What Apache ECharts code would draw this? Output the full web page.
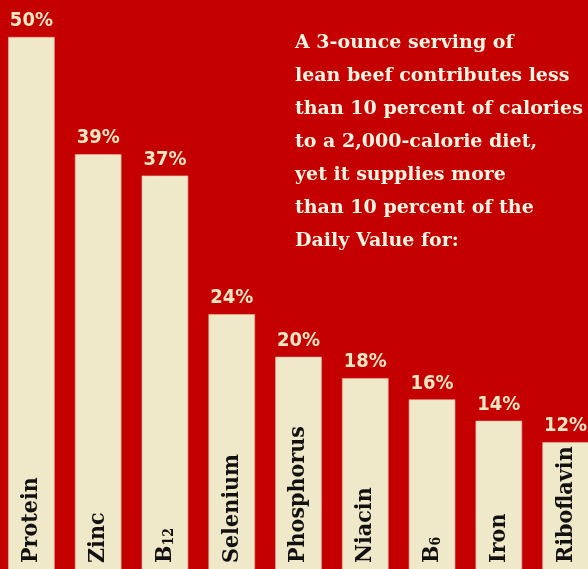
<!DOCTYPE html>
<html>
<head>
<meta charset="utf-8">
<style>
html,body{margin:0;padding:0;background:#c50000;}
#chart{width:588px;height:569px;}
</style>
<script src="https://cdn.jsdelivr.net/npm/echarts@6/dist/echarts.min.js"></script>
</head>
<body>
<div id="chart"></div>
<script>
var categories = ['Protein', 'Zinc', 'B12', 'Selenium', 'Phosphorus', 'Niacin', 'B6', 'Iron', 'Riboflavin'];
var values = [50, 39, 37, 24, 20, 18, 16, 14, 12];
var noteLines = [
  'A 3-ounce serving of',
  'lean beef contributes less',
  'than 10 percent of calories',
  'to a 2,000-calorie diet,',
  'yet it supplies more',
  'than 10 percent of the',
  'Daily Value for:'
];

var chart = echarts.init(document.getElementById('chart'));
var catFont = '"DejaVu Serif Condensed", "DejaVu Sans Condensed", serif';
var numFont = '"DejaVu Sans Condensed", sans-serif';

chart.setOption({
  backgroundColor: '#c50000',
  animation: false,
  grid: { left: -2, width: 601, top: 37, height: 533, containLabel: false, outerBoundsMode: 'none' },
  xAxis: {
    type: 'category',
    data: categories,
    axisLine: { show: false },
    axisTick: { show: false },
    splitLine: { show: false },
    axisLabel: {
      inside: true,
      rotate: 90,
      margin: 7,
      interval: 0,
      color: '#111',
      fontFamily: catFont,
      fontWeight: 'bold',
      fontSize: 23,
      formatter: function (v) {
        if (v === 'B12') return '{b|B}{s|12}';
        if (v === 'B6') return '{b|B}{s|6}';
        return v;
      },
      rich: {
        b: { fontFamily: catFont, fontWeight: 'bold', fontSize: 23, color: '#111' },
        s: { fontFamily: catFont, fontWeight: 'bold', fontSize: 14, color: '#111', verticalAlign: 'bottom' }
      }
    },
    z: 10
  },
  yAxis: {
    type: 'value',
    min: 0,
    max: 50,
    show: false,
    splitLine: { show: false }
  },
  series: [{
    type: 'bar',
    data: values,
    barWidth: 46.5,
    itemStyle: { color: '#efe9ca', borderColor: '#e9b8a6', borderWidth: 0.6 },
    label: {
      show: true,
      position: 'top',
      distance: 6,
      formatter: '{c}%',
      color: '#efe6c4',
      fontFamily: numFont,
      fontWeight: 'bold',
      fontSize: 20
    },
    z: 2
  }],
  graphic: [{
    type: 'text',
    left: 295,
    top: 27,
    style: {
      text: noteLines.join('\n'),
      fill: '#fbf4e2',
      font: 'bold 19px "DejaVu Serif", serif',
      lineHeight: 33
    }
  }]
});
</script>
</body>
</html>
